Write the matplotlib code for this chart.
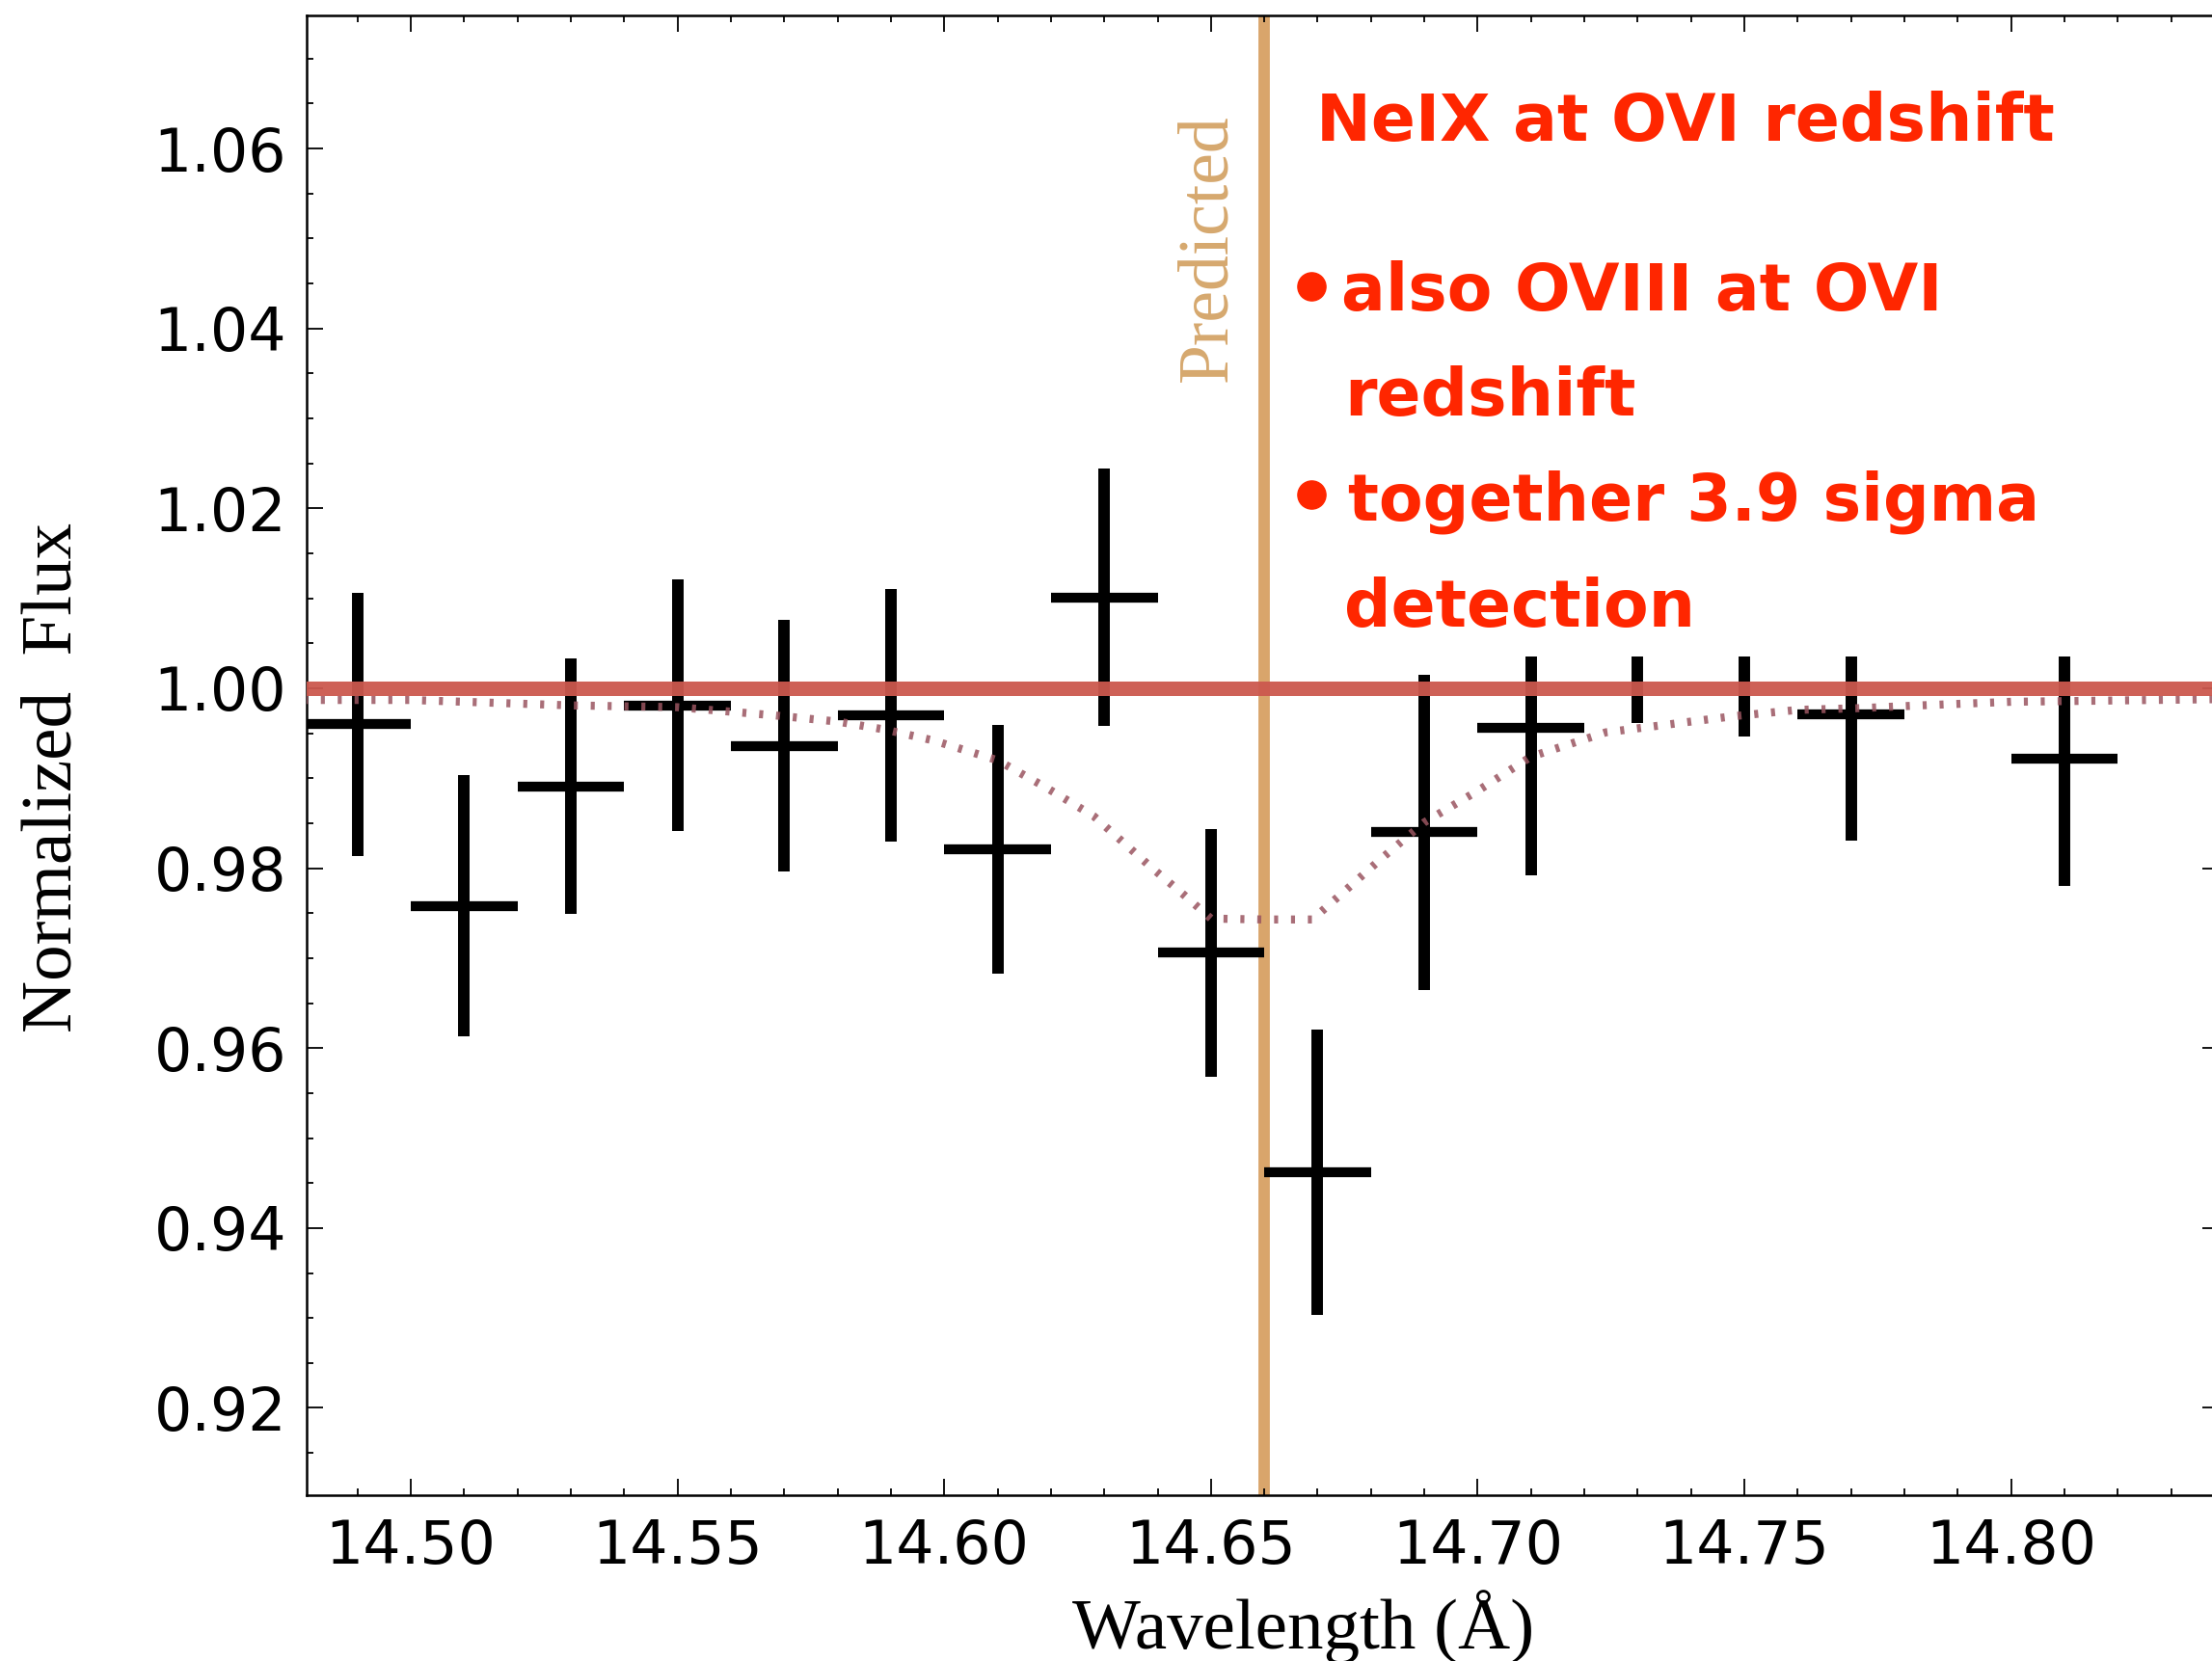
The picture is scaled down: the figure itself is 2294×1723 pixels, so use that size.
import numpy as np
import matplotlib.pyplot as plt
from matplotlib.patches import Rectangle
from matplotlib.ticker import MultipleLocator

# binned spectrum: bin centres, normalized flux, 1-sigma errors, bin half width
wave = [14.49, 14.51, 14.53, 14.55, 14.57, 14.59, 14.61, 14.63, 14.65,
        14.67, 14.69, 14.71, 14.73, 14.75, 14.77, 14.79, 14.81]
flux = [0.9960, 0.9758, 0.9891, 0.9981, 0.9936, 0.9970, 0.9821, 1.0101, 0.9706,
        0.9462, 0.9840, 0.9956, 1.0101, 1.0087, 0.9971, 1.0210, 0.9922]
ferr = [0.0146, 0.0145, 0.0142, 0.0140, 0.0140, 0.0140, 0.0138, 0.0143, 0.0138,
        0.0159, 0.0175, 0.0164, 0.0140, 0.0141, 0.0140, 0.0145, 0.0142]
halfbin = [0.01] * len(wave)

# absorption line model
model_wave = [14.48, 14.50, 14.53, 14.55, 14.568, 14.580, 14.589, 14.598, 14.610,
              14.619, 14.628, 14.639, 14.645, 14.650, 14.660, 14.669, 14.674,
              14.682, 14.690, 14.700, 14.710, 14.724, 14.736, 14.748, 14.760,
              14.772, 14.783, 14.80, 14.84]
model_flux = [0.9987, 0.9987, 0.9981, 0.9979, 0.9970, 0.9963, 0.9954, 0.9942, 0.9920,
              0.9890, 0.9858, 0.9800, 0.9770, 0.9744, 0.9743, 0.9743, 0.9769,
              0.9811, 0.9851, 0.9886, 0.9924, 0.9951, 0.9960, 0.9969, 0.9976,
              0.9978, 0.9981, 0.9985, 0.9988]

continuum = 1.0
predicted = 14.66

notes = ["also OVIII at OVI", "redshift", "together 3.9 sigma", "detection"]

fig = plt.figure(figsize=(22.94, 17.23), dpi=100)
ax = fig.add_axes([318 / 2294, 1 - 1551 / 1723, 1983 / 2294, (1551 - 16) / 1723])

ax.axvline(predicted, color='#d9a56b', lw=8.5, zorder=1.5)

ax.errorbar(wave, flux, yerr=ferr, fmt='none', ecolor='black', elinewidth=8.6, capsize=0, zorder=2)
ax.errorbar(wave, flux, xerr=halfbin, fmt='none', ecolor='black', elinewidth=7.4, capsize=0, zorder=2)

# white panel behind the annotation text
ax.add_patch(Rectangle((14.6634, 1.0035), 0.2, 0.0682, facecolor='white',
                       edgecolor='none', zorder=3))

ax.plot(model_wave, model_flux, color='#9a5560', lw=6, ls=(0, (0.5, 1.6)),
        alpha=0.85, zorder=4)
ax.axhline(continuum, color='#cc584e', lw=10.8, alpha=0.95, zorder=5)

ax.set_xlim(14.4805, 14.8389)
ax.set_ylim(0.9103, 1.0748)

ax.xaxis.set_major_locator(MultipleLocator(0.05))
ax.xaxis.set_minor_locator(MultipleLocator(0.01))
ax.yaxis.set_major_locator(MultipleLocator(0.02))
ax.yaxis.set_minor_locator(MultipleLocator(0.005))
ax.xaxis.set_major_formatter(plt.FormatStrFormatter('%.2f'))
ax.yaxis.set_major_formatter(plt.FormatStrFormatter('%.2f'))

ax.tick_params(which='both', direction='in', top=True, right=True, width=1.3)
ax.tick_params(which='major', length=12.5, labelsize=44.5)
ax.tick_params(which='minor', length=5)
ax.tick_params(axis='x', which='major', pad=17)
ax.tick_params(axis='y', which='major', pad=15)
for sp in ax.spines.values():
    sp.set_linewidth(1.8)

serif = ['Liberation Serif', 'DejaVu Serif']
ax.set_ylabel('Normalized  Flux', family=serif, fontsize=54)
ax.set_xlabel('Wavelength (Å)', family=serif, fontsize=54)
ax.yaxis.set_label_coords(-0.115, 0.485)
ax.xaxis.set_label_coords(0.521, -0.064)

ax.text(14.6497, 1.0490, 'Predicted', family=serif, fontsize=53, color='#d6a86e',
        rotation=90, ha='center', va='center', zorder=3)

red = '#ff2600'
ax.text(14.6697, 1.0609, 'NeIX at OVI redshift', color=red, fontsize=49,
        fontweight='bold', va='baseline', zorder=6)
ax.text(14.6744, 1.0420, notes[0], color=red, fontsize=49, fontweight='bold', va='baseline', zorder=6)
ax.text(14.6750, 1.0303, notes[1], color=red, fontsize=49, fontweight='bold', va='baseline', zorder=6)
ax.text(14.6757, 1.01865, notes[2], color=red, fontsize=48, fontweight='bold', va='baseline', zorder=6)
ax.text(14.6750, 1.00686, notes[3], color=red, fontsize=49, fontweight='bold', va='baseline', zorder=6)
for yb in [1.0447, 1.02155]:
    ax.plot([14.6688], [yb], 'o', color=red, ms=21, zorder=6)

fig.savefig('out.png', dpi=100)
